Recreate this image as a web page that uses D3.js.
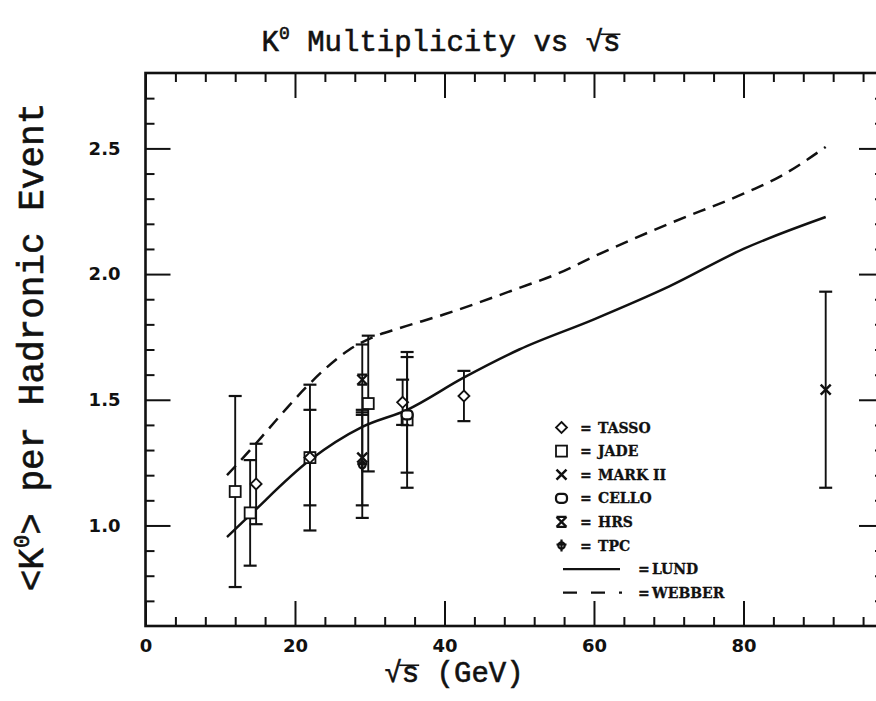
<!DOCTYPE html>
<html>
<head>
<meta charset="utf-8">
<script src="https://cdn.jsdelivr.net/npm/d3@7"></script>
<style>
  body { margin: 0; background: #fff; }
  svg { display: block; }
</style>
</head>
<body>
<svg id="chart" width="876" height="701"></svg>
<script>
// ---- measured K0 multiplicities: energy (GeV), mean per event, error ----
const tassoE   = [14.8, 22.0, 34.4, 42.6];
const tassoK   = [1.165, 1.27, 1.49, 1.515];
const tassoErr = [0.16, 0.19, 0.09, 0.10];

const jadeE   = [12.0, 14.0, 22.0, 29.8, 35.0];
const jadeK   = [1.135, 1.05, 1.27, 1.485, 1.42];
const jadeErr = [0.38, 0.21, 0.29, 0.27, 0.27];

const mark2E   = [29.0, 91.0];
const mark2K   = [1.27, 1.54];
const mark2Err = [0.19, 0.39];

const celloE   = [35.0];
const celloK   = [1.44];
const celloErr = [0.23];

const hrsE   = [29.0];
const hrsK   = [1.58];
const hrsErr = [0.14];

const tpcE   = [29.0];
const tpcK   = [1.24];
const tpcErr = [0.21];

// ---- model predictions ----
const lundE = [10.9, 14, 22, 29, 35, 42.5, 50, 60, 70, 80, 91];
const lundK = [0.954, 1.042, 1.26, 1.392, 1.46, 1.587, 1.70, 1.82, 1.95, 2.10, 2.227];

const webberE = [10.9, 14, 16.5, 19, 21.5, 24.3, 27.3, 30.5, 34, 40, 50, 55, 60, 70, 80, 85, 91];
const webberK = [1.20, 1.30, 1.385, 1.47, 1.55, 1.63, 1.70, 1.75, 1.785, 1.84, 1.945, 2.0, 2.07, 2.20, 2.32, 2.39, 2.506];

// ---- axis ticks ----
const xMajorTicks = [0, 20, 40, 60, 80];
const xMinorTicks = [4, 8, 12, 16, 24, 28, 32, 36, 44, 48, 52, 56, 64, 68, 72, 76, 84, 88, 92, 96];
const yMajorTicks = [1.0, 1.5, 2.0, 2.5];
const yMinorTicks = [0.7, 0.8, 0.9, 1.1, 1.2, 1.3, 1.4, 1.6, 1.7, 1.8, 1.9, 2.1, 2.2, 2.3, 2.4, 2.6, 2.7];

const legendRows = [
  { sym: "diamond", label: "TASSO" },
  { sym: "square",  label: "JADE" },
  { sym: "cross",   label: "MARK II" },
  { sym: "cello",   label: "CELLO" },
  { sym: "hrs",     label: "HRS" },
  { sym: "tpc",     label: "TPC" }
];

const svg = d3.select("#chart");
const ink = "#111";
const monoFont = "'Liberation Mono', 'DejaVu Sans Mono', monospace";
const tickFont = "'DejaVu Sans', 'Liberation Sans', sans-serif";
const legendFont = "'DejaVu Serif', 'Liberation Serif', serif";

const plotLeft = 145.5, plotRight = 884, plotTop = 73, plotBottom = 626;
const x = d3.scaleLinear().domain([0, 98.8]).range([plotLeft, plotRight]);
const y = d3.scaleLinear().domain([0.6, 2.8]).range([plotBottom, plotTop]);

// ---- frame ----
svg.append("rect")
  .attr("x", plotLeft).attr("y", plotTop)
  .attr("width", plotRight - plotLeft).attr("height", plotBottom - plotTop)
  .attr("fill", "none").attr("stroke", ink).attr("stroke-width", 2.6);

function styleAxis(g) {
  g.select(".domain").remove();
  g.selectAll(".tick line").attr("stroke", ink).attr("stroke-width", 2);
}

const majorLen = 25, minorLen = 9;

// bottom axis (labelled)
svg.append("g").attr("transform", `translate(0,${plotBottom})`)
  .call(d3.axisBottom(x).tickValues(xMajorTicks).tickSizeInner(-majorLen).tickSizeOuter(0)
        .tickPadding(13).tickFormat(d3.format("d")))
  .call(styleAxis)
  .call(g => g.selectAll("text")
    .attr("font-family", tickFont).attr("font-weight", "bold")
    .attr("font-size", 18).attr("fill", ink));
svg.append("g").attr("transform", `translate(0,${plotBottom})`)
  .call(d3.axisBottom(x).tickValues(xMinorTicks).tickSizeInner(-minorLen).tickSizeOuter(0).tickFormat(""))
  .call(styleAxis);

// top axis
svg.append("g").attr("transform", `translate(0,${plotTop})`)
  .call(d3.axisTop(x).tickValues(xMajorTicks).tickSizeInner(-majorLen).tickSizeOuter(0).tickFormat(""))
  .call(styleAxis);
svg.append("g").attr("transform", `translate(0,${plotTop})`)
  .call(d3.axisTop(x).tickValues(xMinorTicks).tickSizeInner(-minorLen).tickSizeOuter(0).tickFormat(""))
  .call(styleAxis);

// left axis (labelled)
svg.append("g").attr("transform", `translate(${plotLeft},0)`)
  .call(d3.axisLeft(y).tickValues(yMajorTicks).tickSizeInner(-majorLen).tickSizeOuter(0)
        .tickPadding(25).tickFormat(d3.format(".1f")))
  .call(styleAxis)
  .call(g => g.selectAll("text")
    .attr("font-family", tickFont).attr("font-weight", "bold")
    .attr("font-size", 18).attr("fill", ink));
svg.append("g").attr("transform", `translate(${plotLeft},0)`)
  .call(d3.axisLeft(y).tickValues(yMinorTicks).tickSizeInner(-minorLen).tickSizeOuter(0).tickFormat(""))
  .call(styleAxis);

// right axis
svg.append("g").attr("transform", `translate(${plotRight},0)`)
  .call(d3.axisRight(y).tickValues(yMajorTicks).tickSizeInner(-majorLen).tickSizeOuter(0).tickFormat(""))
  .call(styleAxis);
svg.append("g").attr("transform", `translate(${plotRight},0)`)
  .call(d3.axisRight(y).tickValues(yMinorTicks).tickSizeInner(-minorLen).tickSizeOuter(0).tickFormat(""))
  .call(styleAxis);

// ---- model curves ----
const webberDash = "13 8";
const line = d3.line().x(d => x(d[0])).y(d => y(d[1])).curve(d3.curveMonotoneX);
svg.append("path")
  .datum(d3.zip(lundE, lundK))
  .attr("d", line).attr("fill", "none")
  .attr("stroke", ink).attr("stroke-width", 2.5);
svg.append("path")
  .datum(d3.zip(webberE, webberK))
  .attr("d", line).attr("fill", "none")
  .attr("stroke", ink).attr("stroke-width", 2.5)
  .attr("stroke-dasharray", webberDash);

// ---- markers ----
function drawMarker(g, sym, cx, cy) {
  const m = g.append("g").attr("transform", `translate(${cx},${cy})`)
    .attr("fill", "none").attr("stroke", ink).attr("stroke-width", 1.8);
  if (sym === "diamond") {
    m.append("path").attr("d", "M0,-5.5L5.5,0L0,5.5L-5.5,0Z").attr("fill", "#fff");
  } else if (sym === "square") {
    m.append("rect").attr("x", -5.5).attr("y", -5.5).attr("width", 11).attr("height", 11).attr("fill", "#fff");
  } else if (sym === "cross") {
    m.append("path").attr("d", "M-5,-5L5,5M-5,5L5,-5").attr("stroke-width", 2.5);
  } else if (sym === "cello") {
    m.append("rect").attr("x", -5.5).attr("y", -4.5).attr("width", 11).attr("height", 9)
      .attr("rx", 3.5).attr("fill", "#fff").attr("stroke-width", 2.2);
  } else if (sym === "hrs") {
    m.append("path").attr("d", "M-5,-5L5,5M-5,5L5,-5M-5,-5L5,-5M-5,5L5,5").attr("stroke-width", 2.2);
  } else if (sym === "tpc") {
    m.append("circle").attr("r", 3.2).attr("stroke-width", 2.2);
    m.append("path").attr("d", "M0,-6L0,6M-5,-1L5,-1").attr("stroke-width", 2.2);
  }
}

function drawSeries(E, K, err, sym) {
  const g = svg.append("g");
  E.forEach((e, i) => {
    const cx = x(e), y0 = y(K[i] - err[i]), y1 = y(K[i] + err[i]);
    g.append("line").attr("x1", cx).attr("x2", cx).attr("y1", y0).attr("y2", y1)
      .attr("stroke", ink).attr("stroke-width", 1.9);
    [y0, y1].forEach(yy => g.append("line")
      .attr("x1", cx - 6.5).attr("x2", cx + 6.5).attr("y1", yy).attr("y2", yy)
      .attr("stroke", ink).attr("stroke-width", 2.2));
  });
  E.forEach((e, i) => drawMarker(g, sym, x(e), y(K[i])));
}

drawSeries(jadeE, jadeK, jadeErr, "square");
drawSeries(tassoE, tassoK, tassoErr, "diamond");
drawSeries(celloE, celloK, celloErr, "cello");
drawSeries(tpcE, tpcK, tpcErr, "tpc");
drawSeries(mark2E, mark2K, mark2Err, "cross");
drawSeries(hrsE, hrsK, hrsErr, "hrs");

// ---- legend ----
const legY0 = 427.5, legStep = 23.6;
const leg = svg.append("g");
function legendText(tx, ty, str) {
  leg.append("text").attr("x", tx).attr("y", ty).attr("font-family", legendFont)
    .attr("font-weight", "bold").attr("font-size", 14).attr("fill", ink)
    .attr("stroke", ink).attr("stroke-width", 0.3).text(str);
}
legendRows.forEach((r, i) => {
  const ly = legY0 + i * legStep;
  drawMarker(leg, r.sym, 561.5, ly);
  legendText(580, ly + 5, "=");
  legendText(598, ly + 5, r.label);
});
[["LUND", null, 620], ["WEBBER", "14 14 14 14 3 20", 623]].forEach(([label, dash, x2], j) => {
  const ly = legY0 + (6 + j) * legStep;
  const p = leg.append("line").attr("x1", 563).attr("x2", x2).attr("y1", ly).attr("y2", ly)
    .attr("stroke", ink).attr("stroke-width", 2.2);
  if (dash) p.attr("stroke-dasharray", dash);
  legendText(638, ly + 5, "=");
  legendText(652, ly + 5, label);
});

// ---- text with a radical sign: draws the vinculum over the radicand ----
function radicalBar(textSel, rootIndex, lastIndex) {
  const node = textSel.node();
  const r = node.getExtentOfChar(rootIndex);
  const s = node.getExtentOfChar(lastIndex);
  const barY = r.y + r.height * 0.22;
  svg.append("line")
    .attr("x1", r.x + r.width * 0.85).attr("x2", s.x + s.width)
    .attr("y1", barY).attr("y2", barY)
    .attr("stroke", ink).attr("stroke-width", 1.6);
}

// title
const title = svg.append("text")
  .attr("x", 441).attr("y", 51).attr("text-anchor", "middle")
  .attr("font-family", monoFont).attr("font-size", 29).attr("fill", ink)
  .attr("stroke", ink).attr("stroke-width", 0.6);
title.append("tspan").text("K");
title.append("tspan").attr("dy", -12).attr("font-size", 18).text("0");
title.append("tspan").attr("dy", 12).text(" Multiplicity vs \u221As");
{
  const n = title.node().getNumberOfChars();
  radicalBar(title, n - 2, n - 1);
}

// x axis title
const xTitle = svg.append("text")
  .attr("x", 454).attr("y", 682).attr("text-anchor", "middle")
  .attr("font-family", monoFont).attr("font-size", 29).attr("fill", ink)
  .attr("stroke", ink).attr("stroke-width", 0.6)
  .text("\u221As (GeV)");
radicalBar(xTitle, 0, 1);

// y axis title
const yTitle = svg.append("text")
  .attr("transform", "translate(43,347) rotate(-90)")
  .attr("text-anchor", "middle")
  .attr("font-family", monoFont).attr("font-size", 36).attr("fill", ink)
  .attr("stroke", ink).attr("stroke-width", 0.6);
yTitle.append("tspan").text("<K");
yTitle.append("tspan").attr("dy", -14).attr("font-size", 22).text("0");
yTitle.append("tspan").attr("dy", 14).text("> per Hadronic Event");
</script>
</body>
</html>
